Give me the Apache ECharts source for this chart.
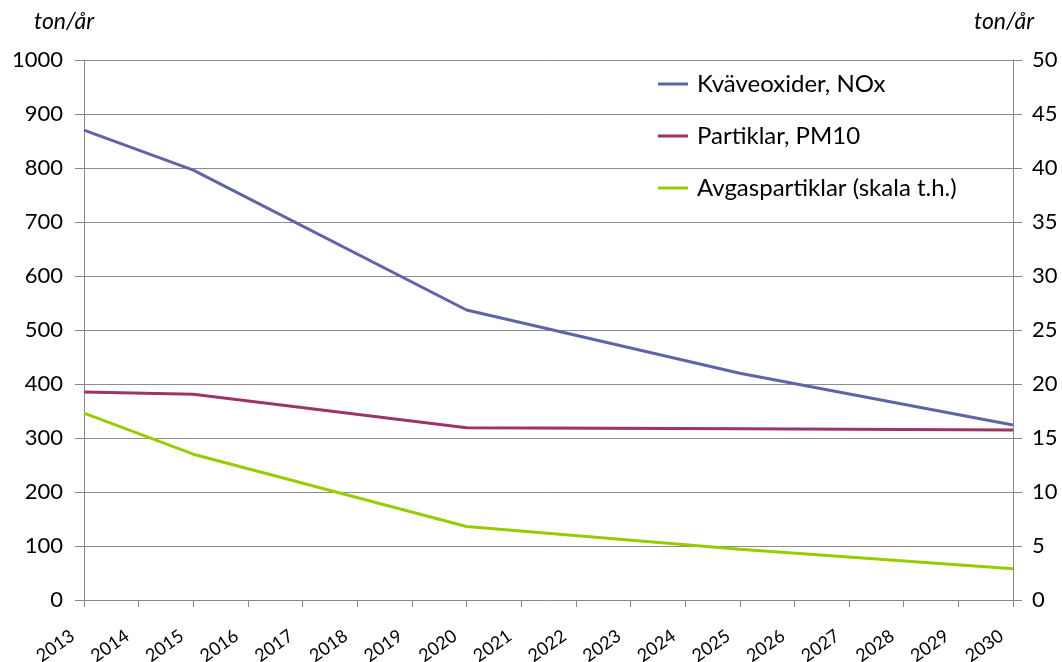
<!DOCTYPE html>
<html><head><meta charset="utf-8">
<script src="https://cdn.jsdelivr.net/npm/echarts@6/dist/echarts.min.js"></script>
<style>html,body{margin:0;padding:0;background:#fff}#c{width:1062px;height:662px}</style>
</head><body><div id="c"></div>
<script>
const years = ['2013','2014','2015','2016','2017','2018','2019','2020','2021','2022','2023','2024','2025','2026','2027','2028','2029','2030'];
const nox   = [870, null, 796, null, null, null, null, 537, null, null, null, null, 420, null, null, null, null, 324];
const pm10  = [385, null, 381, null, null, null, null, 319, null, null, null, null, 317, null, null, null, null, 315];
const avgas = [17.3, null, 13.5, null, null, null, null, 6.8, null, null, null, null, 4.7, null, null, null, null, 2.9];
const names = ['Kväveoxider, NOx', 'Partiklar, PM10', 'Avgaspartiklar (skala t.h.)'];
const colors = ['#6064a6', '#9c3466', '#99cc00'];
const FONT = 'Lato, "Open Sans", sans-serif';
const chart = echarts.init(document.getElementById('c'));
chart.setOption({
  animation: false,
  textStyle: {fontFamily: FONT, color: '#000'},
  grid: {left: 84, right: 49, top: 60, bottom: 62, containLabel: false, outerBoundsMode: 'none'},
  graphic: [
    {type: 'text', left: 34, top: 10, style: {text: 'ton/år', font: 'italic 23px ' + FONT, fill: '#000'}},
    {type: 'text', left: 974, top: 10, style: {text: 'ton/år', font: 'italic 23px ' + FONT, fill: '#000'}}
  ],
  legend: {
    orient: 'vertical', left: 658, top: 72, itemGap: 28, itemWidth: 30, itemHeight: 3, padding: 0,
    icon: 'rect',
    textStyle: {fontSize: 24, fontFamily: FONT, color: '#000', padding: [0, 0, 0, 4]},
    data: names
  },
  xAxis: {
    type: 'category', data: years, boundaryGap: false,
    axisLine: {lineStyle: {color: '#888', width: 1}},
    axisTick: {show: true, length: 7, lineStyle: {color: '#888'}, alignWithLabel: true},
    axisLabel: {rotate: 35, fontSize: 18, color: '#000', margin: 26, interval: 0, fontFamily: FONT, padding: [0, 14, 0, 0]},
    splitLine: {show: false}
  },
  yAxis: [
    {type: 'value', min: 0, max: 1000, interval: 100, position: 'left',
     axisLine: {show: true, lineStyle: {color: '#888'}},
     axisTick: {show: true, length: 9, lineStyle: {color: '#888'}},
     axisLabel: {fontSize: 22, color: '#000', margin: 21, fontFamily: FONT, formatter: v => String(v)},
     splitLine: {show: true, lineStyle: {color: '#8c8c8c', width: 1}}},
    {type: 'value', min: 0, max: 50, interval: 5, position: 'right',
     axisLine: {show: true, lineStyle: {color: '#888'}},
     axisTick: {show: true, length: 9, lineStyle: {color: '#888'}},
     axisLabel: {fontSize: 22, color: '#000', margin: 19, fontFamily: FONT, formatter: v => String(v)},
     splitLine: {show: false}}
  ],
  series: [
    {name: names[0], type: 'line', data: nox, yAxisIndex: 0, connectNulls: true, showSymbol: false, symbol: 'none',
     lineStyle: {color: colors[0], width: 3}, itemStyle: {color: colors[0]}},
    {name: names[1], type: 'line', data: pm10, yAxisIndex: 0, connectNulls: true, showSymbol: false, symbol: 'none',
     lineStyle: {color: colors[1], width: 3}, itemStyle: {color: colors[1]}},
    {name: names[2], type: 'line', data: avgas, yAxisIndex: 1, connectNulls: true, showSymbol: false, symbol: 'none',
     lineStyle: {color: colors[2], width: 3}, itemStyle: {color: colors[2]}}
  ]
});
</script></body></html>
